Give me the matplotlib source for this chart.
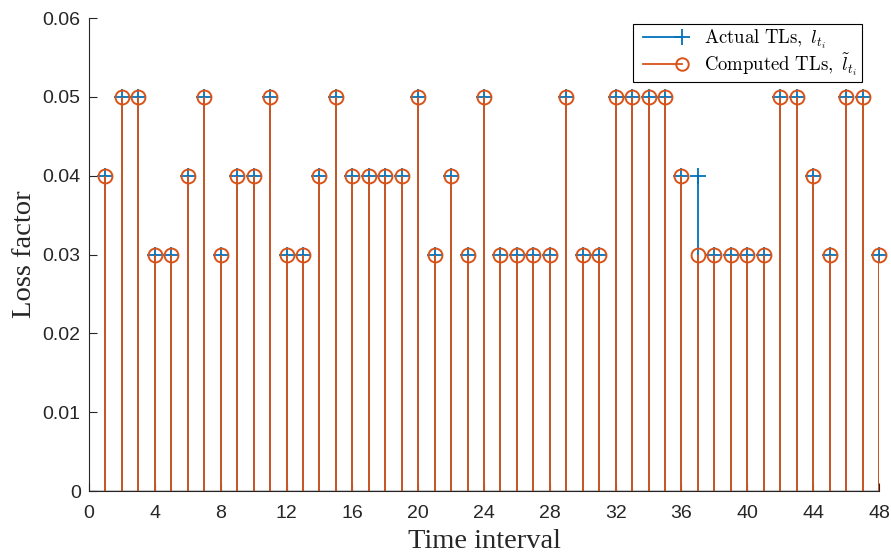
import numpy as np
import matplotlib
matplotlib.use('Agg')
import matplotlib.pyplot as plt

# time intervals and loss factors
intervalos = np.arange(1, 49)
actual_tl = [0.04, 0.05, 0.05, 0.03, 0.03, 0.04, 0.05, 0.03, 0.04, 0.04,
             0.05, 0.03, 0.03, 0.04, 0.05, 0.04, 0.04, 0.04, 0.04, 0.05,
             0.03, 0.04, 0.03, 0.05, 0.03, 0.03, 0.03, 0.03, 0.05, 0.03,
             0.03, 0.05, 0.05, 0.05, 0.05, 0.04, 0.04, 0.03, 0.03, 0.03,
             0.03, 0.05, 0.05, 0.04, 0.03, 0.05, 0.05, 0.03]
computed_tl = [0.04, 0.05, 0.05, 0.03, 0.03, 0.04, 0.05, 0.03, 0.04, 0.04,
               0.05, 0.03, 0.03, 0.04, 0.05, 0.04, 0.04, 0.04, 0.04, 0.05,
               0.03, 0.04, 0.03, 0.05, 0.03, 0.03, 0.03, 0.03, 0.05, 0.03,
               0.03, 0.05, 0.05, 0.05, 0.05, 0.04, 0.03, 0.03, 0.03, 0.03,
               0.03, 0.05, 0.05, 0.04, 0.03, 0.05, 0.05, 0.03]
xticks = np.arange(0, 49, 4)
yticks = [0, 0.01, 0.02, 0.03, 0.04, 0.05, 0.06]
ytick_labels = ['0', '0.01', '0.02', '0.03', '0.04', '0.05', '0.06']

azul = '#0072BD'
naranja = '#D95319'
gris = '#262626'

plt.rcParams['mathtext.fontset'] = 'cm'

fig = plt.figure(figsize=(8.91, 5.56), dpi=100)
ax = fig.add_axes([0.0999, 0.1169, 0.8866, 0.8507])

# actual TLs (blue +)
m1, s1, b1 = ax.stem(intervalos, actual_tl, linefmt='-', markerfmt='+', basefmt=' ')
plt.setp(s1, color=azul, linewidth=1.3)
plt.setp(m1, color=azul, markersize=11, markeredgewidth=1.3, clip_on=False)

# computed TLs (orange o)
m2, s2, b2 = ax.stem(intervalos, computed_tl, linefmt='-', markerfmt='o', basefmt=' ')
plt.setp(s2, color=naranja, linewidth=1.3)
plt.setp(m2, color=naranja, markersize=10, markerfacecolor='none', markeredgewidth=1.4,
         clip_on=False)

ax.axhline(0, color='black', linewidth=1.0, zorder=1)

ax.set_xlim(0, 48)
ax.set_ylim(0, 0.06)
ax.set_xticks(xticks)
ax.set_yticks(yticks)
ax.set_yticklabels(ytick_labels)
for lbl in ax.get_xticklabels() + ax.get_yticklabels():
    lbl.set_family('Liberation Sans')
    lbl.set_fontsize(14)
    lbl.set_color(gris)
ax.tick_params(direction='in', length=6, width=0.8, color=gris)
ax.tick_params(axis='x', pad=10)
ax.tick_params(axis='y', pad=6)
ax.spines['top'].set_visible(False)
ax.spines['right'].set_visible(False)
ax.spines['left'].set_color(gris)
ax.spines['bottom'].set_color(gris)

ax.set_xlabel('Time interval', family='Liberation Serif', fontsize=20.5, labelpad=5, color=gris)
ax.set_ylabel('Loss factor', family='Liberation Serif', fontsize=20.5, labelpad=4, color=gris)

h1 = plt.Line2D([], [], color=azul, marker='+', markersize=11, markeredgewidth=1.3, linewidth=1.3)
h2 = plt.Line2D([], [], color=naranja, marker='o', markersize=9, markerfacecolor='none',
                markeredgewidth=1.4, linewidth=1.3)
leg = ax.legend([h1, h2],
                [r'$\mathrm{Actual\ TLs,}\ l_{t_i}$', r'$\mathrm{Computed\ TLs,}\ \tilde{l}_{t_i}$'],
                loc='upper right', bbox_to_anchor=(0.978, 0.987), borderaxespad=0,
                fontsize=13.5, fancybox=False, edgecolor='black', framealpha=1,
                numpoints=2, markerscale=1,
                handlelength=2.7, handletextpad=0.9, borderpad=0.2, labelspacing=0.0)
leg.get_frame().set_linewidth(0.8)
# marker only at the right end of each legend line
for h in leg.legend_handles:
    h.set_markevery([1])

plt.savefig('out.png', dpi=100)
